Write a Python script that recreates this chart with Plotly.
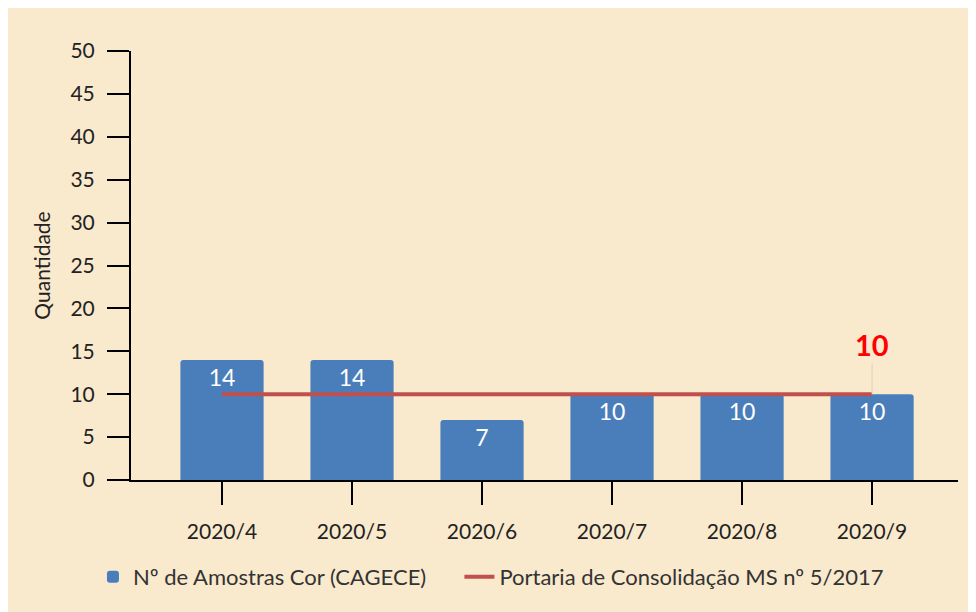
import plotly.graph_objects as go

categories = ["2020/4", "2020/5", "2020/6", "2020/7", "2020/8", "2020/9"]
amostras = [14, 14, 7, 10, 10, 10]
portaria = [10, 10, 10, 10, 10, 10]
y_ticks = [0, 5, 10, 15, 20, 25, 30, 35, 40, 45, 50]

FONT = "Lato, 'Open Sans', sans-serif"
BEIGE = "#F9E9CD"
TXT = "#222222"
BLUE = "#4A7EBB"
NBSP = "\u00a0"

fig = go.Figure()
fig.add_trace(go.Bar(
    x=categories, y=amostras, name="Nº de Amostras Cor (CAGECE)" + NBSP * 5,
    marker=dict(color=BLUE, line=dict(width=0)),
    width=0.64,
    text=[str(v) for v in amostras], textposition="inside",
    insidetextanchor="end", textangle=0, constraintext="none",
    textfont=dict(color="white", size=23, family=FONT),
))
fig.add_trace(go.Scatter(
    x=categories, y=portaria, name="Portaria de Consolidação MS nº 5/2017",
    mode="lines", line=dict(color="#C0504D", width=4),
))

fig.add_annotation(
    x=categories[-1], y=portaria[-1], text="<b>10</b>",
    showarrow=True, arrowhead=0, arrowwidth=1, arrowcolor="#E3D2B4",
    ax=0, ay=-50, font=dict(color="#FF0000", size=29, family=FONT),
)

fig.update_layout(
    width=968, height=604,
    margin=dict(l=123, r=18, t=43, b=132),
    paper_bgcolor=BEIGE, plot_bgcolor="rgba(0,0,0,0)",
    font=dict(family=FONT, size=21, color=TXT),
    barcornerradius=3,
    showlegend=True,
    legend=dict(orientation="h", x=-0.046, xanchor="left", y=-0.226, yanchor="middle",
                bgcolor="rgba(0,0,0,0)", font=dict(size=22, color="#333333"),
                tracegroupgap=0),
    xaxis=dict(
        range=[-0.7, 5.661], showgrid=False, zeroline=False,
        showline=True, linecolor="black", linewidth=2,
        ticks="outside", ticklen=23, tickwidth=2, tickcolor="black",
        tickfont=dict(size=21, color=TXT), ticklabelstandoff=9,
        layer="below traces",
    ),
    yaxis=dict(
        range=[0, 50], tickvals=y_ticks, showgrid=False, zeroline=False,
        showline=True, linecolor="black", linewidth=2,
        ticks="outside", ticklen=22, tickwidth=2, tickcolor="black",
        tickfont=dict(size=21, color=TXT), ticklabelstandoff=8,
        title=dict(text="Quantidade", font=dict(size=21, color=TXT), standoff=14),
    ),
)

fig.write_html("out.html")
